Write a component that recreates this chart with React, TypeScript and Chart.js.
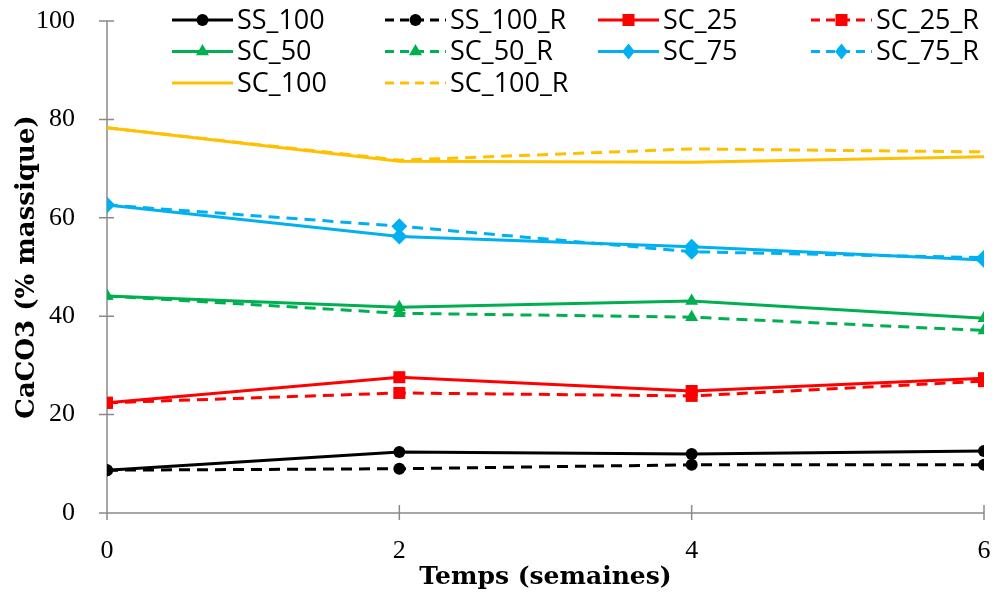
import React, { useEffect, useRef } from "react";
import { Chart, registerables } from "chart.js";

Chart.register(...registerables);

const weeks = [0, 2, 4, 6];
const yTicks = [0, 20, 40, 60, 80, 100];

const ss100 = [8.7, 12.4, 12.0, 12.6];
const ss100R = [8.7, 9.0, 9.8, 9.8];
const sc25 = [22.4, 27.6, 24.8, 27.4];
const sc25R = [22.4, 24.4, 23.8, 26.8];
const sc50 = [44.1, 41.8, 43.1, 39.6];
const sc50R = [44.1, 40.6, 39.8, 37.1];
const sc75 = [62.6, 56.2, 54.1, 51.4];
const sc75R = [62.6, 58.3, 53.1, 51.9];
const sc100 = [78.3, 71.5, 71.3, 72.4];
const sc100R = [78.3, 71.7, 74.0, 73.4];

const seriesNames = ["SS_100", "SS_100_R", "SC_25", "SC_25_R", "SC_50", "SC_50_R", "SC_75", "SC_75_R", "SC_100", "SC_100_R"];
const seriesValues = [ss100, ss100R, sc25, sc25R, sc50, sc50R, sc75, sc75R, sc100, sc100R];
const seriesColors = ["#000000", "#000000", "#FF0000", "#FF0000", "#00B050", "#00B050", "#00B0F0", "#00B0F0", "#FFC000", "#FFC000"];
const seriesMarkers = ["circle", "circle", "rect", "rect", "triangle", "triangle", "rectRot", "rectRot", "none", "none"];
const seriesDashed = [false, true, false, true, false, true, false, true, false, true];

const DASH = [11, 7];
const AXIS_COLOR = "#8A8A8A";
const markerRadius: Record<string, number> = { circle: 6, rect: 8.5, triangle: 7.5, rectRot: 8, none: 0 };

function drawMarker(ctx: CanvasRenderingContext2D, style: string, x: number, y: number, color: string) {
  if (style === "none") return;
  const r = markerRadius[style];
  ctx.save();
  ctx.setLineDash([]);
  ctx.fillStyle = color;
  ctx.beginPath();
  if (style === "circle") {
    ctx.arc(x, y, r, 0, Math.PI * 2);
  } else if (style === "rect") {
    const s = r * Math.SQRT1_2;
    ctx.rect(x - s, y - s, 2 * s, 2 * s);
  } else if (style === "triangle") {
    ctx.moveTo(x, y - r);
    ctx.lineTo(x + r * 0.866, y + r * 0.5);
    ctx.lineTo(x - r * 0.866, y + r * 0.5);
    ctx.closePath();
  } else if (style === "rectRot") {
    ctx.moveTo(x, y - r);
    ctx.lineTo(x + r * 0.8, y);
    ctx.lineTo(x, y + r);
    ctx.lineTo(x - r * 0.8, y);
    ctx.closePath();
  }
  ctx.fill();
  ctx.restore();
}

const legendPlugin = {
  id: "customLegend",
  afterDraw(chart: any) {
    const ctx: CanvasRenderingContext2D = chart.ctx;
    ctx.save();
    seriesNames.forEach((name, i) => {
      const col = i % 4;
      const row = Math.floor(i / 4);
      const x0 = 172 + col * 213;
      const y = 20 + row * 31.5;
      ctx.strokeStyle = seriesColors[i];
      ctx.lineWidth = 3;
      ctx.setLineDash(seriesDashed[i] ? [9, 6] : []);
      ctx.beginPath();
      ctx.moveTo(x0, y);
      ctx.lineTo(x0 + 61, y);
      ctx.stroke();
      drawMarker(ctx, seriesMarkers[i], x0 + 30.5, y, seriesColors[i]);
      ctx.setLineDash([]);
      ctx.fillStyle = "#000";
      ctx.font = "27px 'Liberation Sans Narrow', 'Open Sans', sans-serif";
      ctx.textAlign = "left";
      ctx.textBaseline = "middle";
      ctx.fillText(name, x0 + 65, y + 1);
    });
    ctx.restore();
  },
};

const axisPlugin = {
  id: "axisTicks",
  beforeDatasetsDraw(chart: any) {
    const ctx: CanvasRenderingContext2D = chart.ctx;
    const xs = chart.scales.x;
    const ys = chart.scales.y;
    const area = chart.chartArea;
    ctx.save();
    ctx.strokeStyle = AXIS_COLOR;
    ctx.lineWidth = 1.5;
    ctx.setLineDash([]);
    ctx.beginPath();
    ctx.moveTo(area.left, area.top);
    ctx.lineTo(area.left, area.bottom);
    ctx.lineTo(area.right, area.bottom);
    yTicks.forEach((v) => {
      const py = ys.getPixelForValue(v);
      ctx.moveTo(area.left - 8, py);
      ctx.lineTo(area.left + 7, py);
    });
    weeks.forEach((v) => {
      const px = xs.getPixelForValue(v);
      ctx.moveTo(px, area.bottom - 8);
      ctx.lineTo(px, area.bottom + 7);
    });
    ctx.stroke();
    ctx.restore();
  },
};

export default function App() {
  const canvasRef = useRef<HTMLCanvasElement | null>(null);

  useEffect(() => {
    document.body.style.margin = "0";
    const canvas = canvasRef.current;
    if (!canvas) return;
    const datasets = seriesNames.map((name, i) => ({
      label: name,
      data: weeks.map((w, j) => ({ x: w, y: seriesValues[i][j] })),
      borderColor: seriesColors[i],
      backgroundColor: seriesColors[i],
      borderWidth: 3,
      borderDash: seriesDashed[i] ? DASH : [],
      pointStyle: seriesMarkers[i] === "none" ? false : seriesMarkers[i],
      pointRadius: markerRadius[seriesMarkers[i]],
      pointBorderWidth: 0,
      tension: 0,
      fill: false,
    }));
    const chart = new Chart(canvas, {
      type: "line",
      data: { datasets } as any,
      options: {
        animation: false,
        responsive: false,
        maintainAspectRatio: false,
        layout: { padding: { top: 21, right: 11, left: 0, bottom: 0 } },
        plugins: {
          legend: { display: false },
          tooltip: { enabled: false },
        },
        scales: {
          x: {
            type: "linear",
            min: 0,
            max: 6,
            afterFit: (s: any) => {
              s.height = 83;
              s.paddingLeft = 0;
              s.paddingRight = 0;
            },
            afterBuildTicks: (s: any) => {
              s.ticks = weeks.map((v) => ({ value: v }));
            },
            grid: { display: false },
            border: { display: false },
            ticks: {
              padding: 15,
              color: "#000",
              font: { family: "'Liberation Serif', serif", size: 26 },
            },
            title: {
              display: true,
              text: "Temps (semaines)",
              color: "#000",
              padding: { top: 0, bottom: 4 },
              font: { family: "'DejaVu Serif', serif", size: 25, weight: "bold" },
            },
          },
          y: {
            type: "linear",
            min: 0,
            max: 100,
            afterFit: (s: any) => {
              s.width = 107;
              s.paddingTop = 0;
              s.paddingBottom = 0;
            },
            afterBuildTicks: (s: any) => {
              s.ticks = yTicks.map((v) => ({ value: v }));
            },
            grid: { display: false },
            border: { display: false },
            ticks: {
              padding: 24,
              color: "#000",
              font: { family: "'Liberation Serif', serif", size: 26 },
            },
            title: {
              display: true,
              text: "CaCO3 (% massique)",
              color: "#000",
              padding: { top: 12, bottom: 0 },
              font: { family: "'DejaVu Serif', serif", size: 26, weight: "bold" },
            },
          },
        },
      } as any,
      plugins: [axisPlugin, legendPlugin],
    });
    return () => chart.destroy();
  }, []);

  return (
    <div style={{ width: 995, height: 596 }}>
      <canvas ref={canvasRef} width={995} height={596} style={{ display: "block" }} />
    </div>
  );
}
